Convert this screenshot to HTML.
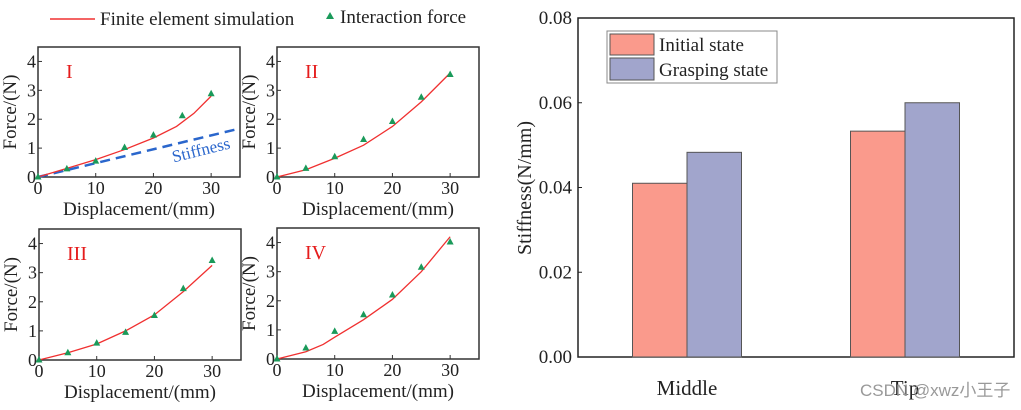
<!DOCTYPE html>
<html><head><meta charset="utf-8">
<style>
html,body{margin:0;padding:0;background:#fff;}
svg{display:block;font-family:"Liberation Serif",serif;}
</style></head>
<body>
<svg id="fig" width="1021" height="410" viewBox="0 0 1021 410" xmlns="http://www.w3.org/2000/svg">
<g>
  <line x1="50" y1="19" x2="95" y2="19" stroke="#f03030" stroke-width="1.5"/>
  <text x="100" y="25" font-size="19" fill="#222">Finite element simulation</text>
  <polygon points="330,12 334,19 326,19" fill="#1a9a5a"/>
  <text x="340" y="23" font-size="19" fill="#222">Interaction force</text>
</g>
</svg>
<script>
// ---------- small multiples data ----------
const panelNames = ["I","II","III","IV"];
const feX1 = [0,5,10,15,20,24,27,30];
const feY1 = [0,0.3,0.6,0.95,1.35,1.75,2.2,2.8];
const feX2 = [0,5,10,15,20,25,30];
const feY2 = [0,0.25,0.65,1.1,1.75,2.6,3.6];
const feX3 = [0,5,10,15,20,25,30];
const feY3 = [0,0.25,0.55,1.0,1.55,2.35,3.25];
const feX4 = [0,5,8,10,15,20,25,30];
const feY4 = [0,0.25,0.5,0.75,1.35,2.05,3.0,4.2];
const ptX = [0,5,10,15,20,25,30];
const ptY1 = [0,0.28,0.55,1.02,1.45,2.12,2.88];
const ptY2 = [0,0.3,0.7,1.3,1.92,2.76,3.55];
const ptY3 = [0,0.25,0.58,0.95,1.53,2.45,3.42];
const ptY4 = [0,0.38,0.95,1.52,2.2,3.15,4.02];
const stiffX = [0,35];
const stiffY = [0,1.68];
const xTicks = [0,10,20,30];
const yTicks = [0,1,2,3,4];
// ---------- bar chart data ----------
const barCategories = ["Middle","Tip"];
const initialVals = [0.041,0.0533];
const graspVals = [0.0483,0.060];
const barTicks = ["0.00","0.02","0.04","0.06","0.08"];

const NS="http://www.w3.org/2000/svg";
const svg=document.getElementById('fig');
function mk(tag,attrs,parent,text){const e=document.createElementNS(NS,tag);for(const k in attrs)e.setAttribute(k,attrs[k]);if(text!==undefined)e.textContent=text;(parent||svg).appendChild(e);return e;}

const frames=[
 {l:38,r:240,t:47,b:177},{l:277,r:479,t:47,b:177},
 {l:39,r:241,t:229,b:360},{l:277,r:479,t:228,b:359}];
const feXs=[feX1,feX2,feX3,feX4], feYs=[feY1,feY2,feY3,feY4], ptYs=[ptY1,ptY2,ptY3,ptY4];

frames.forEach((f,i)=>{
  const g=mk('g',{});
  
  
  const sx=v=>f.l+(v/35)*(f.r-f.l);
  const sy=v=>f.b-(v/4.5)*(f.b-f.t);
  const fr=mk('rect',{x:f.l,y:f.t,width:f.r-f.l,height:f.b-f.t,fill:'none',stroke:'#333','stroke-width':1.5},g);
  
  
  xTicks.forEach(t=>{
    mk('line',{x1:sx(t),x2:sx(t),y1:f.b,y2:f.b-4,stroke:'#333'},g);
    const tx=mk('text',{x:sx(t),y:f.b+17,'font-size':18,'text-anchor':'middle',fill:'#222'},g,t);
    
    
  });
  yTicks.forEach(t=>{
    mk('line',{x1:f.l,x2:f.l+4,y1:sy(t),y2:sy(t),stroke:'#333'},g);
    const tx=mk('text',{x:f.l-2,y:sy(t)+6,'font-size':18,'text-anchor':'end',fill:'#222'},g,t);
    
    
  });
  const xt=mk('text',{x:(f.l+f.r)/2,y:f.b+38,'font-size':19,'text-anchor':'middle',fill:'#222'},g,'Displacement/(mm)');
  
  
  const cy=(f.t+f.b)/2, cx=f.l-22;
  const yt=mk('text',{x:cx,y:cy,'font-size':19,'text-anchor':'middle',fill:'#222',transform:`rotate(-90 ${cx} ${cy})`},g,'Force/(N)');
  
  
  const rl=mk('text',{x:f.l+28,y:f.t+31,'font-size':20,fill:'#e51c1c'},g,panelNames[i]);
  
  
  if(i===0){
    const d=stiffX.map((x,k)=>`${k?'L':'M'}${sx(x)},${sy(stiffY[k])}`).join(' ');
    const sl=mk('path',{d,fill:'none',stroke:'#2a66cc','stroke-width':2.5,'stroke-dasharray':'10,6'},g);
    
    
    const st=mk('text',{x:sx(23.5),y:sy(0.5),'font-size':17,fill:'#2a66cc',transform:`rotate(-14 ${sx(23.5)} ${sy(0.5)})`},g,'Stiffness');
    
    
  }
  const d=feXs[i].map((x,k)=>`${k?'L':'M'}${sx(x)},${sy(feYs[i][k])}`).join(' ');
  const fl=mk('path',{d,fill:'none',stroke:'#f03030','stroke-width':1.3},g);
  
  
  ptX.forEach((x,k)=>{
    const px=sx(x),py=sy(ptYs[i][k]);
    const p=mk('polygon',{points:`${px},${py-4} ${px+3.5},${py+2.5} ${px-3.5},${py+2.5}`,fill:'#1a9a5a'},g);
    
    
  });
});

// ---------- bar chart ----------
const B={l:578,r:1014,t:18,b:357,max:0.08};
const bg=mk('g',{});


const by=v=>B.b-(v/B.max)*(B.b-B.t);
const bframe=mk('rect',{x:B.l,y:B.t,width:B.r-B.l,height:B.b-B.t,fill:'none',stroke:'#222','stroke-width':1.5},bg);


barTicks.forEach(t=>{
  const v=parseFloat(t);
  mk('line',{x1:B.l,x2:B.l+4,y1:by(v),y2:by(v),stroke:'#222'},bg);
  const tx=mk('text',{x:B.l-6,y:by(v)+6,'font-size':19,'text-anchor':'end',fill:'#222'},bg,t);
  
  
});
const ytl=mk('text',{x:531,y:188,'font-size':20,'text-anchor':'middle',fill:'#222',transform:'rotate(-90 531 188)'},bg,'Stiffness(N/mm)');


const groupW=(B.r-B.l)/barCategories.length, bw=54.5;
barCategories.forEach((c,i)=>{
  const cx=B.l+groupW*(i+0.5);
  const r1=mk('rect',{x:cx-bw,y:by(initialVals[i]),width:bw,height:B.b-by(initialVals[i]),fill:'#fa9a8c',stroke:'#555','stroke-width':1},bg);
  
  
  const r2=mk('rect',{x:cx,y:by(graspVals[i]),width:bw,height:B.b-by(graspVals[i]),fill:'#a1a5cc',stroke:'#555','stroke-width':1},bg);
  
  
  const lb=mk('text',{x:cx,y:395,'font-size':21,'text-anchor':'middle',fill:'#222'},bg,c);
  
  
});
const lg=mk('g',{},bg);


mk('rect',{x:607,y:31,width:170,height:52,fill:'#fff',stroke:'#888'},lg);
mk('rect',{x:610,y:34,width:44,height:21,fill:'#fa9a8c',stroke:'#555'},lg);
mk('rect',{x:610,y:58,width:44,height:22,fill:'#a1a5cc',stroke:'#555'},lg);
const l1=mk('text',{x:659,y:51,'font-size':19,fill:'#222'},lg,'Initial state');


const l2=mk('text',{x:659,y:76,'font-size':19,fill:'#222'},lg,'Grasping state');


const wm=mk('text',{x:860,y:396,'font-size':17,fill:'#999','font-family':'"Liberation Sans","Noto Sans CJK SC",sans-serif'},svg,'CSDN @xwz小王子');


</script>
</body></html>
